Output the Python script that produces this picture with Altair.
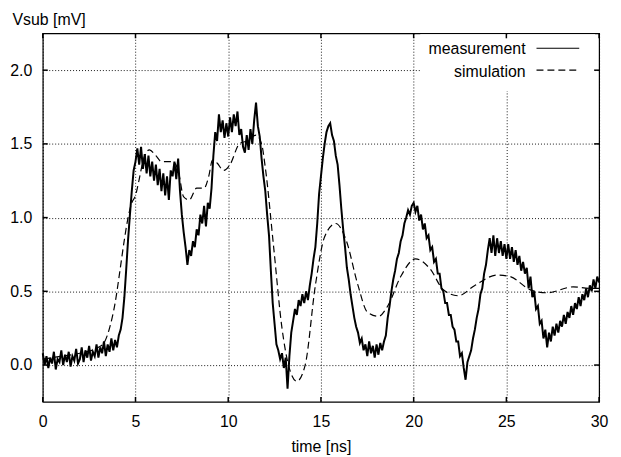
import altair as alt
import pandas as pd

# ---- data ----
# measurement sampled every 0.1 ns from 0 to 30 ns (mV)
meas_step_ns = 0.1
meas_mv = [
    0.08, 0.00, 0.06, -0.02, 0.05, 0.01, 0.09, -0.03, 0.04, 0.02,
    0.10, 0.00, 0.07, 0.02, 0.09, -0.01, 0.06, 0.03, 0.11, 0.01,
    0.04, 0.12, 0.02, 0.10, 0.05, 0.13, 0.03, 0.09, 0.06, 0.14,
    0.05, 0.12, 0.08, 0.16, 0.06, 0.14, 0.09, 0.18, 0.10, 0.17,
    0.12, 0.20, 0.24, 0.32, 0.46, 0.65, 0.85, 1.02, 1.18, 1.32,
    1.38, 1.47, 1.36, 1.48, 1.33, 1.43, 1.30, 1.42, 1.28, 1.38,
    1.25, 1.36, 1.22, 1.33, 1.18, 1.30, 1.15, 1.28, 1.12, 1.32,
    1.28, 1.38, 1.26, 1.40, 1.18, 1.02, 0.90, 0.80, 0.68, 0.78,
    0.74, 0.84, 0.80, 0.92, 0.88, 1.02, 0.96, 1.08, 0.94, 1.10,
    1.06, 1.20, 1.42, 1.58, 1.52, 1.70, 1.58, 1.66, 1.54, 1.64,
    1.55, 1.68, 1.58, 1.70, 1.62, 1.72, 1.56, 1.60, 1.48, 1.44,
    1.56, 1.46, 1.60, 1.50, 1.66, 1.78, 1.62, 1.55, 1.40, 1.28,
    1.18, 1.02, 0.88, 0.64, 0.42, 0.28, 0.14, 0.10, 0.04, 0.08,
    -0.02, 0.05, -0.16, 0.06, 0.22, 0.30, 0.38, 0.34, 0.44, 0.40,
    0.48, 0.42, 0.50, 0.44, 0.54, 0.62, 0.72, 0.80, 0.96, 1.16,
    1.28, 1.40, 1.50, 1.58, 1.62, 1.64, 1.56, 1.52, 1.42, 1.36,
    1.22, 1.06, 0.92, 0.80, 0.66, 0.58, 0.48, 0.40, 0.32, 0.26,
    0.22, 0.15, 0.18, 0.10, 0.14, 0.06, 0.16, 0.08, 0.13, 0.05,
    0.14, 0.07, 0.15, 0.10, 0.16, 0.20, 0.32, 0.40, 0.50, 0.58,
    0.64, 0.72, 0.76, 0.84, 0.88, 0.96, 1.00, 1.05, 1.02, 1.08,
    1.10, 1.04, 1.08, 0.98, 1.02, 0.92, 0.96, 0.86, 0.88, 0.78,
    0.80, 0.70, 0.72, 0.62, 0.62, 0.52, 0.50, 0.42, 0.42, 0.34,
    0.34, 0.26, 0.24, 0.16, 0.16, 0.06, 0.08, -0.02, -0.10, 0.02,
    0.06, 0.10, 0.18, 0.24, 0.32, 0.38, 0.48, 0.52, 0.62, 0.68,
    0.78, 0.86, 0.76, 0.88, 0.74, 0.86, 0.76, 0.84, 0.74, 0.82,
    0.72, 0.82, 0.72, 0.80, 0.70, 0.78, 0.68, 0.74, 0.64, 0.70,
    0.62, 0.66, 0.52, 0.60, 0.46, 0.50, 0.38, 0.40, 0.28, 0.30,
    0.18, 0.24, 0.12, 0.22, 0.16, 0.26, 0.20, 0.28, 0.22, 0.30,
    0.26, 0.34, 0.28, 0.36, 0.32, 0.40, 0.34, 0.42, 0.38, 0.46,
    0.40, 0.48, 0.44, 0.52, 0.46, 0.54, 0.50, 0.58, 0.52, 0.60,
    0.56,
]

sim_t = [0, 1, 2, 3, 3.3, 3.6, 3.9, 4.15, 4.4, 4.6, 4.8, 5.0, 5.2, 5.4, 5.75,
         6.1, 6.4, 7.0, 7.3, 7.6, 7.9, 8.3, 8.7, 8.95, 9.15, 9.4, 9.75, 10.1,
         10.6, 11.0, 11.5, 11.8, 12.0, 12.45, 12.9, 13.25, 13.7, 14.15, 14.7,
         15.2, 15.8, 16.35, 17.0, 17.5, 18.1, 18.6, 19.3, 20.1, 20.9, 21.6,
         22.4, 23.3, 24.5, 25.2, 26.3, 27.2, 28.6, 29.5, 30]
sim_mv = [0.04, 0.06, 0.08, 0.12, 0.15, 0.25, 0.42, 0.63, 0.85, 1.0, 1.1, 1.15,
          1.26, 1.38, 1.46, 1.42, 1.38, 1.38, 1.32, 1.14, 1.12, 1.2, 1.2, 1.28,
          1.39, 1.37, 1.32, 1.36, 1.5, 1.52, 1.56, 1.5, 1.34, 0.8, 0.25, 0.0,
          -0.11, 0.0, 0.54, 0.87, 0.96, 0.85, 0.54, 0.36, 0.33, 0.40, 0.60,
          0.72, 0.65, 0.51, 0.47, 0.54, 0.61, 0.60, 0.51, 0.49, 0.53, 0.52, 0.52]

x_ticks = [0, 5, 10, 15, 20, 25, 30]
y_ticks = [0.0, 0.5, 1.0, 1.5, 2.0]
legend_labels = ["measurement", "simulation"]

FONT = "Liberation Sans"
FS = 16
W, H = 560, 371
TK = 5  # inward tick length (px)

meas_df = pd.DataFrame({"t": [round(i * meas_step_ns, 2) for i in range(len(meas_mv))],
                        "v": meas_mv})
sim_df = pd.DataFrame({"t": sim_t, "v": sim_mv})
xt_df = pd.DataFrame({"t": x_ticks})
yt_df = pd.DataFrame({"v": y_ticks})

xs = alt.Scale(domain=[0, 30], nice=False, zero=False)
ys = alt.Scale(domain=[-0.25, 2.25], nice=False, zero=False)

x_axis = alt.Axis(values=x_ticks, format="d", title="time [ns]", grid=True,
                  gridDash=[1, 2], gridColor="#000000", gridOpacity=0.9,
                  domain=False, ticks=False, labelPadding=12, labelFlush=False,
                  labelFont=FONT, labelFontSize=FS, labelColor="#000",
                  titleFont=FONT, titleFontSize=FS, titleFontWeight="normal",
                  titleColor="#000", titlePadding=9)
y_axis = alt.Axis(values=y_ticks, format=".1f", title="Vsub [mV]", grid=True,
                  gridDash=[1, 2], gridColor="#000000", gridOpacity=0.9,
                  domain=False, ticks=False, labelPadding=11, labelFlush=False,
                  labelFont=FONT, labelFontSize=FS, labelColor="#000",
                  titleFont=FONT, titleFontSize=FS, titleFontWeight="normal",
                  titleColor="#000", titleAngle=0, titleX=-31, titleY=-14,
                  titleAlign="left", titleBaseline="middle")

meas = alt.Chart(meas_df).mark_line(color="black", strokeWidth=2.0).encode(
    x=alt.X("t:Q", scale=xs, axis=x_axis),
    y=alt.Y("v:Q", scale=ys, axis=y_axis),
)
sim = alt.Chart(sim_df).mark_line(color="black", strokeWidth=1.2,
                                  strokeDash=[7, 4], interpolate="monotone").encode(
    x=alt.X("t:Q", scale=xs),
    y=alt.Y("v:Q", scale=ys),
)

# inward ticks on all four sides of the frame
tick_bottom = alt.Chart(xt_df).mark_rule(color="black", strokeWidth=1.5).encode(
    x=alt.X("t:Q", scale=xs), y=alt.value(H), y2=alt.value(H - TK))
tick_top = alt.Chart(xt_df).mark_rule(color="black", strokeWidth=1.5).encode(
    x=alt.X("t:Q", scale=xs), y=alt.value(0), y2=alt.value(TK))
tick_left = alt.Chart(yt_df).mark_rule(color="black", strokeWidth=1.5).encode(
    y=alt.Y("v:Q", scale=ys), x=alt.value(0), x2=alt.value(TK))
tick_right = alt.Chart(yt_df).mark_rule(color="black", strokeWidth=1.5).encode(
    y=alt.Y("v:Q", scale=ys), x=alt.value(W - TK), x2=alt.value(W))

# legend (drawn inside the plot, label left of sample line)
leg_box = alt.Chart(alt.Data(values=[{"k": 1}])).mark_rect(fill="white").encode(
    x=alt.value(380), x2=alt.value(556), y=alt.value(1), y2=alt.value(58))
leg_text1 = alt.Chart(alt.Data(values=[{"label": legend_labels[0]}])).mark_text(
    align="right", baseline="middle", font=FONT, fontSize=FS, color="black").encode(
    text="label:N", x=alt.value(486), y=alt.value(16))
leg_text2 = alt.Chart(alt.Data(values=[{"label": legend_labels[1]}])).mark_text(
    align="right", baseline="middle", font=FONT, fontSize=FS, color="black").encode(
    text="label:N", x=alt.value(486), y=alt.value(39))
leg_line1 = alt.Chart(alt.Data(values=[{"k": 1}])).mark_rule(
    color="black", strokeWidth=1.2).encode(
    x=alt.value(497), x2=alt.value(540), y=alt.value(15))
leg_line2 = alt.Chart(alt.Data(values=[{"k": 1}])).mark_rule(
    color="black", strokeWidth=1.2, strokeDash=[7, 4]).encode(
    x=alt.value(497), x2=alt.value(540), y=alt.value(37))

chart = alt.layer(sim, meas, leg_box, leg_text1, leg_text2, leg_line1, leg_line2,
                  tick_bottom, tick_top, tick_left, tick_right).properties(
    width=W, height=H,
    padding={"left": 1, "top": 2, "right": 5, "bottom": 2},
    background="white",
).configure_view(stroke="black", strokeWidth=1.2)

chart.save("out.html", embed_options={"renderer": "svg", "actions": False})
